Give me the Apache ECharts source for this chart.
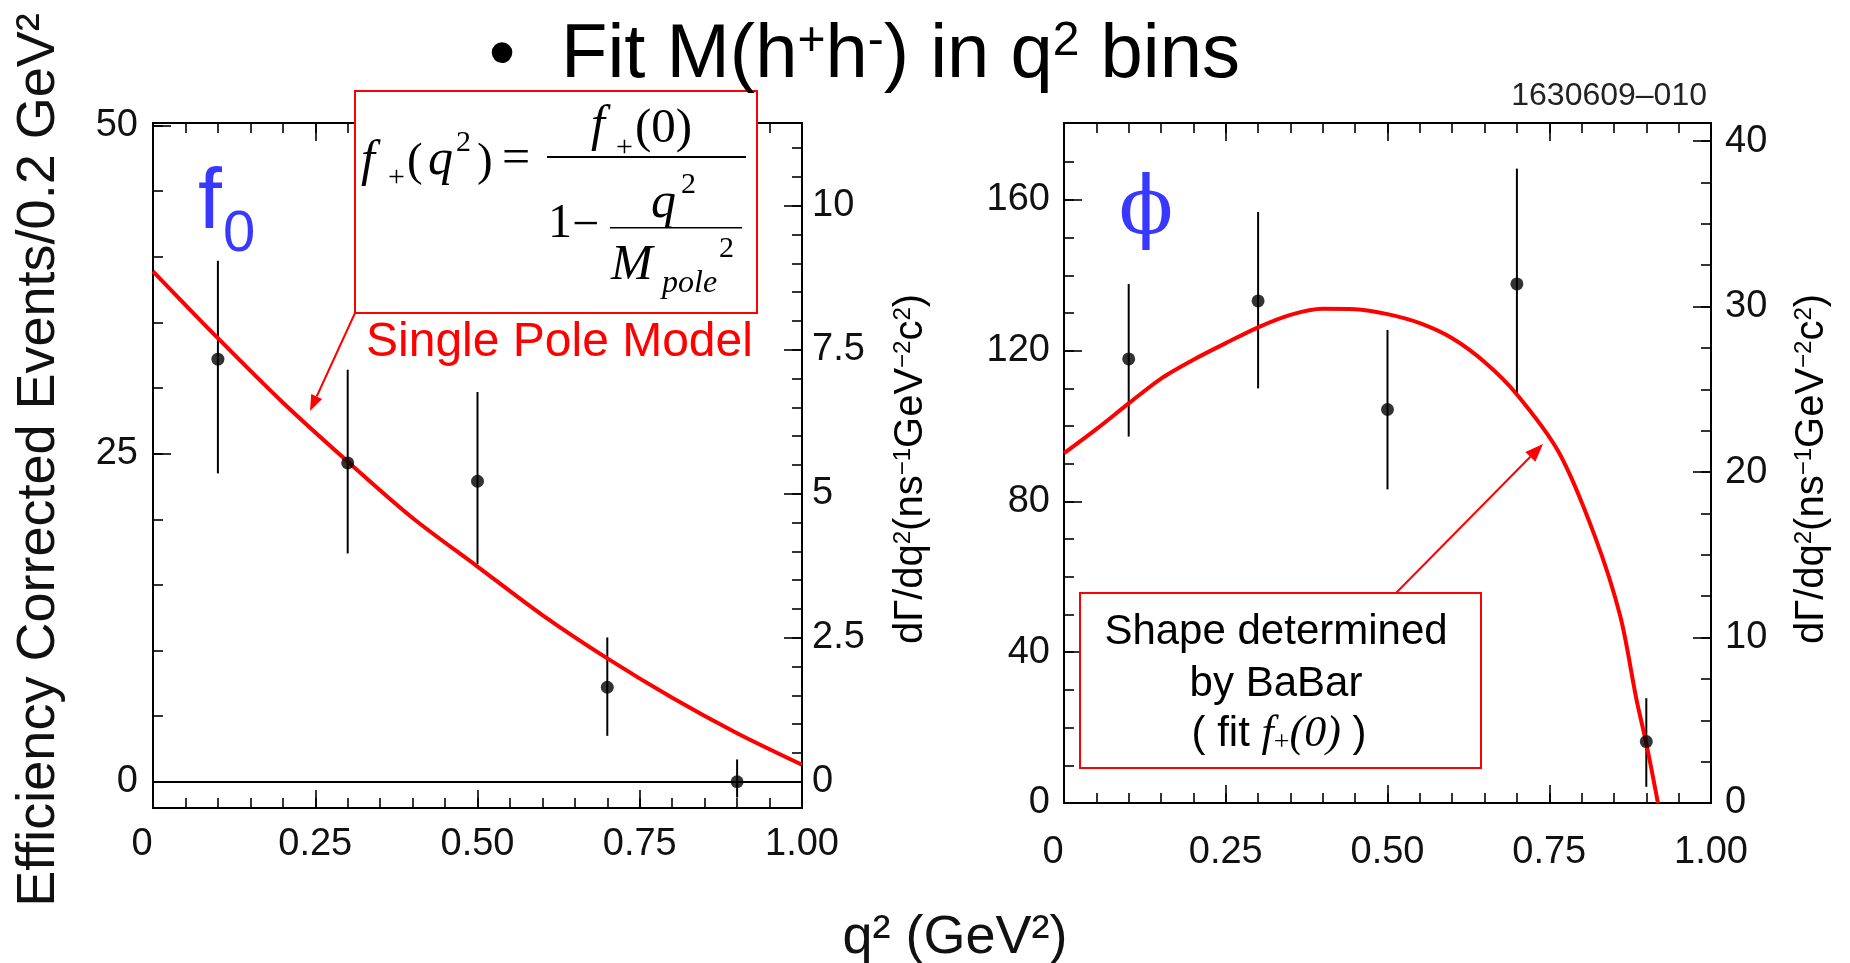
<!DOCTYPE html>
<html><head><meta charset="utf-8">
<script src="https://cdn.jsdelivr.net/npm/echarts@6/dist/echarts.min.js"></script>
<style>html,body{margin:0;padding:0;background:#fff}#c{width:1850px;height:963px}</style>
</head><body><div id="c"></div>
<script>
// ---------------- data ----------------
const qBins = [0.1, 0.3, 0.5, 0.7, 0.9];

const f0Events   = [32.2, 24.3, 22.9, 7.2, 0.0];
const f0ErrLow   = [23.5, 17.4, 16.6, 3.5, -1.2];
const f0ErrHigh  = [39.7, 31.4, 29.7, 11.0, 1.7];
const f0FitQ2    = [0, 0.1, 0.2, 0.3, 0.4, 0.5, 0.6, 0.7, 0.8, 0.9, 1.0];
const f0FitValues= [38.9, 33.8, 28.9, 24.4, 20.1, 16.4, 12.7, 9.4, 6.4, 3.7, 1.3];

const phiEvents  = [117.8, 133.2, 104.4, 137.7, 16.3];
const phiErrLow  = [97.2, 110.0, 83.2, 108.0, 4.3];
const phiErrHigh = [137.7, 156.8, 125.5, 168.3, 27.8];
const phiFitQ2   = [0, 0.05, 0.1, 0.15, 0.2, 0.25, 0.3, 0.35, 0.4, 0.45, 0.5, 0.55, 0.6, 0.65, 0.7, 0.765, 0.82, 0.86, 0.885, 0.9, 0.918];
const phiFitValues=[92.8, 99.2, 106.0, 112.6, 117.6, 122.0, 126.2, 129.5, 131.1, 131.0, 129.7, 127.3, 123.3, 117.0, 108.4, 93.0, 71.0, 49.4, 27.3, 15.8, 0];

const xTickValues = [0, 0.25, 0.5, 0.75, 1];
const xTickLabels = ['0', '0.25', '0.50', '0.75', '1.00'];
const f0LeftTickValues  = [0, 25, 50];
const f0LeftTickLabels  = ['0', '25', '50'];
const f0RightTickValues = [0, 2.5, 5, 7.5, 10];
const f0RightTickLabels = ['0', '2.5', '5', '7.5', '10'];
const phiLeftTickValues = [0, 40, 80, 120, 160];
const phiLeftTickLabels = ['0', '40', '80', '120', '160'];
const phiRightTickValues= [0, 10, 20, 30, 40];
const phiRightTickLabels= ['0', '10', '20', '30', '40'];

// scale ranges
const f0Range = [-2, 50.2];
const phiRange = [0, 180.4];
const rateRatio = 4.39; // events per unit of dGamma/dq2 scale

// ---------------- helpers ----------------
function steps(a, b, s) { const r = []; for (let i = 0; a + i * s <= b + 1e-9; i++) r.push(+(a + i * s).toFixed(4)); return r; }
const FONT = 'Liberation Sans, Arial, Helvetica, sans-serif';
const SERIF = 'Liberation Serif, Times New Roman, serif';
const xAxes = [], yAxes = [];

function addAxis(list, grid, pos, min, max, ticks, len, labels, margin, isX) {
  const ax = {
    type: 'value', gridIndex: grid, position: pos, min: min, max: max,
    axisLine: { show: true, onZero: false, lineStyle: { color: '#000', width: 2 } },
    axisTick: { show: true, inside: true, length: len, customValues: ticks, lineStyle: { color: '#000', width: 1.6 } },
    splitLine: { show: false }, minorTick: { show: false },
    axisLabel: { show: false },
    axisPointer: { show: false }, silent: true
  };
  if (labels) {
    ax.axisLabel = {
      show: true, customValues: ticks, margin: margin,
      fontFamily: FONT, fontSize: 38, color: '#111',
      rich: { z: { fontFamily: FONT, fontSize: 38, color: '#111', padding: [0, 22, 0, 0] } },
      formatter: function (v) {
        for (let i = 0; i < ticks.length; i++) if (Math.abs(ticks[i] - v) < 1e-6) {
          if (isX && v === 0) return '{z|' + labels[i] + '}';
          return labels[i];
        }
        return '';
      }
    };
  }
  list.push(ax);
  return list.length - 1;
}

function buildFrame(grid, yMin, yMax, leftTicks, leftLabels, leftMinor, rightTicks, rightLabels, rightMinor, marg) {
  const xMinor = steps(0, 1, 0.05);
  const xi = addAxis(xAxes, grid, 'bottom', 0, 1, xTickValues, 18, xTickLabels, marg.x, true);
  addAxis(xAxes, grid, 'bottom', 0, 1, xMinor, 10, null);
  addAxis(xAxes, grid, 'top', 0, 1, xTickValues, 18, null);
  addAxis(xAxes, grid, 'top', 0, 1, xMinor, 10, null);
  const yi = addAxis(yAxes, grid, 'left', yMin, yMax, leftTicks, 18, leftLabels, marg.yl);
  addAxis(yAxes, grid, 'left', yMin, yMax, leftMinor, 10, null);
  addAxis(yAxes, grid, 'right', yMin / rateRatio, yMax / rateRatio, rightTicks, 18, rightLabels, marg.yr);
  addAxis(yAxes, grid, 'right', yMin / rateRatio, yMax / rateRatio, rightMinor, 10, null);
  return [xi, yi];
}

const [fx, fy] = buildFrame(0, f0Range[0], f0Range[1], f0LeftTickValues, f0LeftTickLabels, steps(0, 50, 5),
  f0RightTickValues, f0RightTickLabels, steps(0, 11, 0.5), { x: 18, yl: 15, yr: 10 });
const [px, py] = buildFrame(1, phiRange[0], phiRange[1], phiLeftTickValues, phiLeftTickLabels, steps(0, 170, 10),
  phiRightTickValues, phiRightTickLabels, steps(0, 40, 2.5), { x: 31, yl: 14, yr: 14 });

function errorBars(xi, yi, lows, highs) {
  return {
    type: 'custom', xAxisIndex: xi, yAxisIndex: yi, z: 3, silent: true,
    data: qBins.map((q, i) => [q, lows[i], highs[i]]),
    encode: { x: 0, y: [1, 2] },
    renderItem: function (params, api) {
      const a = api.coord([api.value(0), api.value(1)]);
      const b = api.coord([api.value(0), api.value(2)]);
      return { type: 'line', shape: { x1: a[0], y1: a[1], x2: b[0], y2: b[1] }, style: { stroke: '#000', lineWidth: 2 } };
    }
  };
}

function arrow(x1, y1, x2, y2, len, half) {
  const a = Math.atan2(y2 - y1, x2 - x1);
  const bx = x2 - len * Math.cos(a), by = y2 - len * Math.sin(a);
  const ox = -Math.sin(a) * half, oy = Math.cos(a) * half;
  return [
    { type: 'line', z: 110, shape: { x1: x1, y1: y1, x2: bx, y2: by }, style: { stroke: '#ff0000', lineWidth: 2 } },
    { type: 'polygon', z: 110, shape: { points: [[x2, y2], [bx + ox, by + oy], [bx - ox, by - oy]] }, style: { fill: '#ff0000' } }
  ];
}
function txt(text, x, y, size, opts) {
  return { type: 'text', z: 120, style: Object.assign({ text: text, x: x, y: y, fontSize: size, fontFamily: FONT, fill: '#000', align: 'left', verticalAlign: 'middle' }, opts || {}) };
}
function mtxt(text, x, y, size, italic) {
  return txt(text, x, y, size, { fontFamily: SERIF, fontStyle: italic ? 'italic' : 'normal' });
}
function rotTxt(x, y, style) {
  return { type: 'text', z: 120, x: x, y: y, rotation: Math.PI / 2, style: Object.assign({ x: 0, y: 0, align: 'center', verticalAlign: 'middle', fill: '#000', fontFamily: FONT }, style) };
}
const rateTitleRich = {
  text: '{m|dΓ/dq}{p|2}{m|(ns}{p|−1}{m|GeV}{p|−2}{m|c}{p|2}{m|)}',
  rich: {
    m: { fontSize: 40, lineHeight: 40, fontFamily: FONT, fill: '#000' },
    p: { fontSize: 24, lineHeight: 24, fontFamily: FONT, fill: '#000', verticalAlign: 'top' }
  }
};
const BLUE = '#3838ff';

const graphics = [
  // title
  txt('•', 502, 57, 76, { align: 'center' }),
  { type: 'text', z: 130, style: {
      x: 561, y: 56, align: 'left', verticalAlign: 'middle',
      text: '{a|Fit M(h}{s|+}{a|h}{s|-}{a|) in q}{s|2}{a| bins}',
      rich: {
        a: { fontSize: 76, lineHeight: 76, fontFamily: FONT, fill: '#000' },
        s: { fontSize: 48, lineHeight: 48, fontFamily: FONT, fill: '#000', verticalAlign: 'top' }
      } } },
  txt('1630609–010', 1707, 96, 32, { align: 'right', fill: '#222' }),
  // axis titles
  rotTxt(39, 460, { text: 'Efficiency Corrected Events/0.2 GeV²', fontSize: 54, fill: '#111' }),
  txt('q² (GeV²)', 955, 938, 54, { align: 'center', fill: '#111' }),
  rotTxt(911, 469, rateTitleRich),
  rotTxt(1812, 469, rateTitleRich),
  // panel labels
  txt('f', 198, 204, 86, { fill: BLUE }),
  txt('0', 223, 235, 58, { fill: BLUE }),
  txt('ϕ', 1146, 212, 80, { align: 'center', fill: BLUE, fontFamily: 'DejaVu Serif, Liberation Serif, serif' }),
  // formula box
  { type: 'rect', z: 100, shape: { x: 355, y: 91, width: 402, height: 222 }, style: { fill: '#fff', stroke: '#ff0000', lineWidth: 2 } },
  mtxt('f', 361, 162, 50, true),
  mtxt('+', 388, 178, 30, false),
  mtxt('(', 407, 163, 47, false),
  mtxt('q', 428, 161, 50, true),
  mtxt('2', 456, 143, 30, false),
  mtxt(')', 477, 163, 47, false),
  mtxt('=', 502, 160, 50, false),
  mtxt('f', 591, 127, 50, true),
  mtxt('+', 616, 148, 30, false),
  mtxt('(0)', 635, 129, 49, false),
  { type: 'rect', z: 115, shape: { x: 547, y: 156, width: 199, height: 2 }, style: { fill: '#000' } },
  mtxt('1', 548, 224, 48, false),
  mtxt('−', 572, 226, 48, false),
  mtxt('q', 651, 204, 50, true),
  mtxt('2', 681, 185, 30, false),
  { type: 'rect', z: 115, shape: { x: 610, y: 227, width: 132, height: 1.5 }, style: { fill: '#000' } },
  mtxt('M', 611, 266, 50, true),
  mtxt('pole', 662, 284, 32, true),
  mtxt('2', 719, 249, 30, false),
  txt('Single Pole Model', 366, 343, 48, { fill: '#ff0000' }),
  ...arrow(355, 313, 310, 411, 16, 6),
  // BaBar box
  { type: 'rect', z: 100, shape: { x: 1080, y: 593, width: 401, height: 175 }, style: { fill: '#fff', stroke: '#ff0000', lineWidth: 2 } },
  txt('Shape determined', 1276, 632, 42, { align: 'center' }),
  txt('by BaBar', 1276, 684, 42, { align: 'center' }),
  { type: 'text', z: 120, style: {
      x: 1279, y: 734, align: 'center', verticalAlign: 'middle',
      text: '{n|( fit }{i|f}{b|+}{i|(0)}{n| )}',
      rich: {
        n: { fontSize: 42, lineHeight: 46, fontFamily: FONT, fill: '#000' },
        i: { fontSize: 44, lineHeight: 46, fontFamily: SERIF, fontStyle: 'italic', fill: '#000' },
        b: { fontSize: 28, lineHeight: 28, fontFamily: SERIF, fill: '#000', verticalAlign: 'bottom' }
      } } },
  ...arrow(1396, 593, 1543, 444, 18, 7)
];

const chart = echarts.init(document.getElementById('c'), null, { renderer: 'canvas' });
chart.setOption({
  animation: false,
  backgroundColor: '#fff',
  textStyle: { fontFamily: FONT },
  grid: [
    { left: 153, top: 123, width: 649, height: 685, outerBoundsMode: 'none', show: false },
    { left: 1064, top: 123, width: 647, height: 680, outerBoundsMode: 'none', show: false }
  ],
  xAxis: xAxes,
  yAxis: yAxes,
  series: [
    errorBars(fx, fy, f0ErrLow, f0ErrHigh),
    {
      type: 'line', xAxisIndex: fx, yAxisIndex: fy, z: 4, silent: true,
      data: f0FitQ2.map((q, i) => [q, f0FitValues[i]]),
      smooth: 0.3, showSymbol: false, symbol: 'none',
      lineStyle: { color: '#ff0000', width: 4 }
    },
    {
      type: 'scatter', xAxisIndex: fx, yAxisIndex: fy, z: 5, silent: true,
      data: qBins.map((q, i) => [q, f0Events[i]]),
      symbol: 'circle', symbolSize: 13, itemStyle: { color: '#000' },
      markLine: { silent: true, symbol: 'none', label: { show: false }, lineStyle: { color: '#000', width: 2, type: 'solid' }, data: [{ yAxis: 0 }] }
    },
    errorBars(px, py, phiErrLow, phiErrHigh),
    {
      type: 'line', xAxisIndex: px, yAxisIndex: py, z: 4, silent: true,
      data: phiFitQ2.map((q, i) => [q, phiFitValues[i]]),
      smooth: 0.3, showSymbol: false, symbol: 'none',
      lineStyle: { color: '#ff0000', width: 4 }
    },
    {
      type: 'scatter', xAxisIndex: px, yAxisIndex: py, z: 5, silent: true,
      data: qBins.map((q, i) => [q, phiEvents[i]]),
      symbol: 'circle', symbolSize: 13, itemStyle: { color: '#000' }
    }
  ],
  graphic: graphics
});
</script></body></html>
